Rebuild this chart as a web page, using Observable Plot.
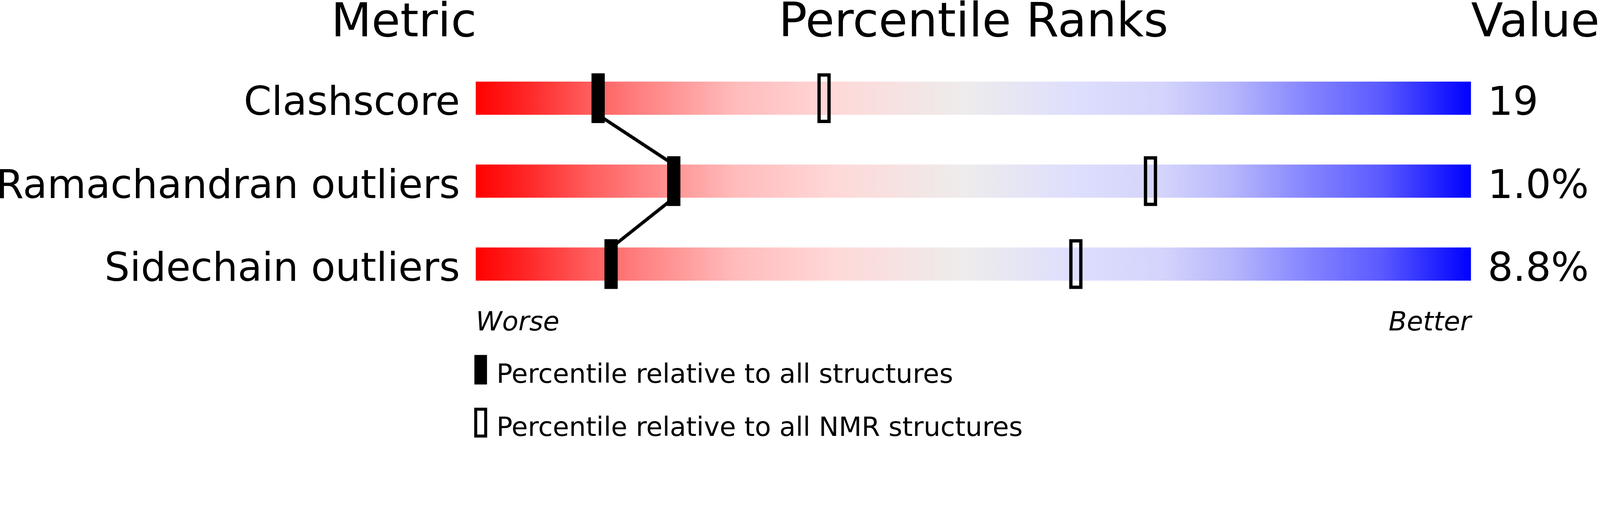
<!DOCTYPE html>
<html>
<head>
<meta charset="utf-8">
<script src="https://cdn.jsdelivr.net/npm/d3@7"></script>
<script src="https://cdn.jsdelivr.net/npm/@observablehq/plot@0.6"></script>
<style>
  html, body { margin: 0; padding: 0; background: #ffffff; }
  #chart svg { display: block; overflow: visible; }
</style>
</head>
<body>
<div id="chart"></div>
<script>
// ---- data ----
const metrics = ["Clashscore", "Ramachandran outliers", "Sidechain outliers"];
const metricValues = ["19", "1.0%", "8.8%"];
const percentileAll = [12.3, 19.9, 13.6];
const percentileNMR = [35.0, 67.8, 60.3];
const headers = ["Metric", "Percentile Ranks", "Value"];
const endLabels = ["Worse", "Better"];
const legendLabels = ["Percentile relative to all structures", "Percentile relative to all NMR structures"];
const percentileDomain = [0, 100];

// ---- styling ----
const gradientStops = [
  [0, "#ff0000"], [0.055, "#ff2a2a"], [0.11, "#ff5a5a"], [0.165, "#ff8080"],
  [0.26, "#ffbbbb"], [0.36, "#ffd8d8"], [0.49, "#eeecec"], [0.6, "#dedefd"],
  [0.69, "#d4d4fc"], [0.76, "#b6b6fc"], [0.83, "#8888ff"], [0.91, "#5a5aff"], [1, "#0000ff"]
];
const font = "DejaVu Sans";

const rows = metrics.map((m, i) => ({metric: m, row: i, value: metricValues[i], all: percentileAll[i], nmr: percentileNMR[i]}));
const links = rows.slice(1).map((d, i) => ({x1: rows[i].all, y1: rows[i].row + 0.2, x2: d.all, y2: d.row - 0.2}));
const lo = percentileDomain[0], hi = percentileDomain[1], mid = (lo + hi) / 2;
const legendRows = legendLabels.map((t, i) => ({text: t, i}));

const headerY = -0.75;
const endY = 2.8;

const chart = Plot.plot({
  width: 4823,
  height: 1321,
  marginLeft: 1434,
  marginRight: 389,
  marginTop: 296,
  marginBottom: 525,
  style: {fontFamily: font, background: "#ffffff"},
  x: {domain: percentileDomain, axis: null},
  y: {domain: [0, metrics.length - 1], reverse: true, axis: null},
  marks: [
    // gradient sliders
    Plot.rect(rows, {x1: () => lo, x2: () => hi, y1: d => d.row - 0.2, y2: d => d.row + 0.2, fill: "url(#slider)"}),
    // connecting line
    Plot.link(links, {x1: "x1", y1: "y1", x2: "x2", y2: "y2", stroke: "black", strokeWidth: 10}),
    // NMR percentile markers (open)
    Plot.rect(rows, {x1: "nmr", x2: "nmr", y1: d => d.row - 0.28, y2: d => d.row + 0.28,
      insetLeft: -15, insetRight: -15, fill: "none", stroke: "black", strokeWidth: 10}),
    // all-structure percentile markers (filled)
    Plot.rect(rows, {x1: "all", x2: "all", y1: d => d.row - 0.3, y2: d => d.row + 0.3,
      insetLeft: -20, insetRight: -20, fill: "black"}),
    // metric labels
    Plot.text(rows, {x: () => lo, y: d => d.row + 0.2, text: "metric", textAnchor: "end", lineAnchor: "bottom",
      dx: -48, fontSize: 120, fontFamily: font, fill: "black"}),
    // values
    Plot.text(rows, {x: () => hi, y: d => d.row + 0.2, text: "value", textAnchor: "start", lineAnchor: "bottom",
      dx: 50, fontSize: 120, fontFamily: font, fill: "black"}),
    // headers
    Plot.text([headers[0]], {x: () => lo, y: () => headerY, text: d => d, textAnchor: "end", lineAnchor: "bottom",
      dx: 2, fontSize: 141, fontFamily: font, fill: "black"}),
    Plot.text([headers[1]], {x: () => mid, y: () => headerY, text: d => d, textAnchor: "middle", lineAnchor: "bottom",
      fontSize: 142, fontFamily: font, fill: "black"}),
    Plot.text([headers[2]], {x: () => hi, y: () => headerY, text: d => d, textAnchor: "start", lineAnchor: "bottom",
      fontSize: 141, fontFamily: font, fill: "black"}),
    // Worse / Better
    Plot.text([endLabels[0]], {x: () => lo, y: () => endY, text: d => d, textAnchor: "start", lineAnchor: "bottom",
      fontSize: 80, fontStyle: "italic", fontFamily: font, fill: "black"}),
    Plot.text([endLabels[1]], {x: () => hi, y: () => endY, text: d => d, textAnchor: "end", lineAnchor: "bottom",
      fontSize: 80, fontStyle: "italic", fontFamily: font, fill: "black"}),
    // legend swatches
    Plot.rect(legendRows.filter(d => d.i === 0), {x1: () => lo, x2: () => lo, y1: () => 3.096, y2: () => 3.452,
      insetLeft: -4, insetRight: -34, fill: "black"}),
    Plot.rect(legendRows.filter(d => d.i === 1), {x1: () => lo, x2: () => lo, y1: () => 3.75, y2: () => 4.074,
      insetLeft: 0, insetRight: -30, fill: "none", stroke: "black", strokeWidth: 9}),
    // legend labels
    Plot.text(legendRows, {x: () => lo, y: d => [3.432, 4.068][d.i], text: "text", textAnchor: "start", lineAnchor: "bottom",
      dx: 62, fontSize: 80, fontFamily: font, fill: "black"})
  ]
});

// gradient definition
const ns = "http://www.w3.org/2000/svg";
const defs = document.createElementNS(ns, "defs");
const grad = document.createElementNS(ns, "linearGradient");
grad.setAttribute("id", "slider");
grad.setAttribute("x1", "0"); grad.setAttribute("x2", "1");
grad.setAttribute("y1", "0"); grad.setAttribute("y2", "0");
for (const [off, col] of gradientStops) {
  const s = document.createElementNS(ns, "stop");
  s.setAttribute("offset", off);
  s.setAttribute("stop-color", col);
  grad.appendChild(s);
}
defs.appendChild(grad);
chart.insertBefore(defs, chart.firstChild);

document.getElementById("chart").appendChild(chart);
</script>
</body>
</html>
